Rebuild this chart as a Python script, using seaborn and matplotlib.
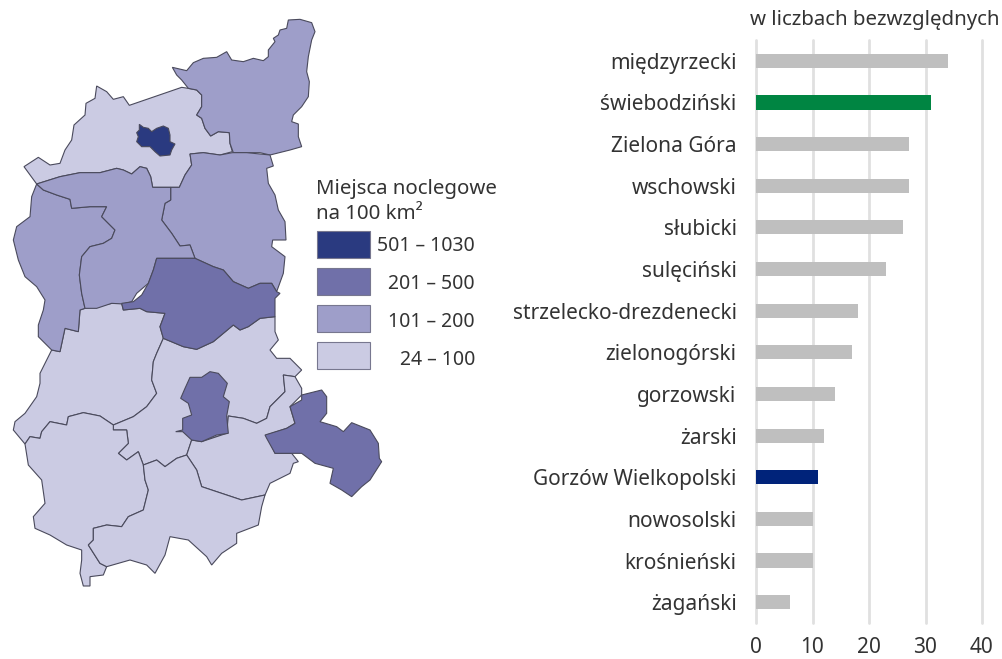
"""Miejsca noclegowe: map of powiats and ranking bars."""
import matplotlib.pyplot as plt
import pandas as pd
import seaborn as sns

# bars
POWIATY = ["międzyrzecki", "świebodziński", "Zielona Góra", "wschowski", "słubicki",
           "sulęciński", "strzelecko-drezdenecki", "zielonogórski", "gorzowski", "żarski",
           "Gorzów Wielkopolski", "nowosolski", "krośnieński", "żagański"]
WARTOSCI = [34, 31, 27, 27, 26, 23, 18, 17, 14, 12, 11, 10, 10, 6]
KOLORY_SLUPKOW = ["#bfbfbf", "#008542"] + ["#bfbfbf"] * 8 + ["#00237a"] + ["#bfbfbf"] * 3
X_TICKS = [0, 10, 20, 30, 40]

# legend
KLASY = ["501 – 1030", "201 – 500", "101 – 200", "24 – 100"]
KOLORY_KLAS = ["#2a3a80", "#7070a9", "#9e9ec9", "#cbcbe3"]

# map outlines (units are 1/3 of a pixel)
STRZELECKO = [(517,202),(560,212),(580,188),(610,175),(650,172),(680,155),(695,180),(730,185),(760,175),
              (790,182),(805,170),(805,150),(825,125),(820,115),(835,105),(840,90),(860,85),(865,60),
              (900,58),(935,68),(945,95),(935,120),(925,170),(920,215),(928,245),(925,290),(905,320),
              (880,345),(875,365),(895,372),(895,410),(905,440),(870,450),(810,465),(780,458),(740,458),
              (700,458),(690,430),(688,398),(655,395),(632,408),(615,385),(605,355),(590,345),(605,320),
              (605,285),(590,270),(565,265),(545,240),(530,225)]
GORZOWSKI = [(72,500),(115,472),(150,495),(180,490),(195,450),(215,420),(222,375),(255,345),(258,310),
             (285,295),(290,258),(320,275),(340,298),(370,290),(388,316),(545,262),(565,265),(590,270),
             (605,285),(605,320),(590,345),(605,355),(615,385),(632,408),(655,395),(688,398),(690,430),
             (697,455),(660,465),(610,458),(570,462),(575,495),(555,525),(538,562),(458,562),(452,530),
             (440,505),(420,500),(395,522),(370,510),(350,505),(300,518),(240,518),(180,530),(110,552)]
GORZOW = [(418,373),(430,382),(445,385),(455,395),(470,385),(490,378),(505,385),(510,405),(510,425),
          (525,432),(515,450),(510,465),(480,468),(465,455),(450,440),(425,440),(410,425),(415,410),
          (410,398),(418,390)]
MIEDZYRZECKI = [(570,462),(610,458),(660,465),(697,458),(740,458),(810,465),(820,498),(800,505),(805,550),
                (825,585),(835,630),(855,665),(858,720),(818,720),(815,740),(855,770),(850,820),(830,875),
                (815,850),(780,850),(745,865),(700,845),(670,810),(640,800),(585,775),(570,735),(540,738),
                (515,700),(485,660),(495,610),(512,600),(512,562),(538,562),(555,525),(575,495)]
SULECINSKI = [(110,552),(180,530),(240,518),(300,518),(350,505),(370,510),(395,522),(420,500),(440,505),
              (452,530),(458,562),(512,562),(512,600),(495,610),(485,660),(515,700),(540,738),(570,735),
              (585,775),(540,775),(470,775),(460,810),(445,850),(410,880),(395,905),(370,912),(335,910),
              (290,925),(255,925),(245,880),(238,825),(245,770),(270,740),(310,730),(335,715),(345,690),
              (320,665),(305,650),(320,620),(270,620),(215,625),(210,598),(170,585),(130,570)]
SLUBICKI = [(110,552),(130,570),(170,585),(210,598),(215,625),(270,620),(320,620),(305,650),(320,665),
            (345,690),(335,715),(310,730),(270,740),(245,770),(238,825),(245,880),(255,925),(240,930),
            (235,995),(195,985),(180,1055),(155,1050),(115,1010),(115,975),(130,930),(135,900),(110,860),
            (75,830),(55,780),(40,720),(50,680),(90,650),(95,590)]
SWIEBODZINSKI = [(470,775),(540,775),(585,775),(640,800),(670,810),(700,845),(745,865),(780,850),(815,850),
                 (830,875),(840,880),(825,895),(825,950),(780,955),(745,980),(720,990),(700,975),(670,1000),
                 (640,1025),(590,1048),(550,1040),(490,1015),(480,980),(495,940),(440,935),(420,925),
                 (370,930),(365,910),(400,905),(425,885),(445,850),(460,810)]
KROSNIENSKI = [(240,930),(255,925),(290,920),(335,910),(365,910),(370,930),(420,925),(440,935),(495,940),
               (480,980),(490,1015),(470,1060),(460,1085),(455,1140),(470,1180),(440,1220),(400,1250),
               (340,1275),(300,1248),(250,1238),(205,1250),(200,1275),(150,1265),(125,1295),(120,1315),
               (90,1310),(75,1332),(40,1290),(45,1265),(75,1240),(110,1190),(120,1150),(120,1120),
               (145,1070),(155,1050),(180,1055),(195,985),(235,995)]
ZIELONOGORSKI = [(490,1015),(550,1040),(590,1048),(640,1025),(670,1000),(700,975),(720,990),(745,980),
                 (780,955),(825,950),(825,995),(835,1020),(810,1050),(830,1075),(870,1075),(905,1110),
                 (885,1130),(850,1125),(855,1175),(810,1220),(800,1255),(770,1270),(730,1255),(685,1248),
                 (680,1300),(605,1325),(575,1320),(560,1365),(530,1375),(495,1400),(470,1380),(430,1395),
                 (415,1355),(380,1380),(355,1360),(385,1330),(380,1290),(340,1290),(340,1275),(400,1250),
                 (440,1220),(470,1180),(455,1140),(460,1085),(470,1060)]
NOWOSOLSKI = [(575,1320),(605,1325),(680,1300),(685,1248),(730,1255),(770,1270),(800,1255),(810,1220),
              (855,1175),(850,1125),(885,1130),(905,1165),(905,1185),(870,1220),(885,1270),(860,1285),
              (800,1305),(825,1360),(875,1360),(895,1385),(880,1390),(870,1420),(810,1450),(795,1485),
              (725,1500),(650,1475),(605,1460),(590,1410),(560,1365)]
ZIELONA_GORA = [(570,1132),(605,1132),(630,1115),(655,1120),(682,1150),(670,1190),(688,1205),(680,1248),
                (685,1300),(650,1305),(605,1325),(575,1320),(548,1295),(527,1295),(548,1290),(548,1255),
                (575,1245),(565,1210),(542,1195),(555,1165)]
WSCHOWSKI = [(905,1185),(965,1170),(980,1190),(980,1240),(960,1265),(1010,1280),(1030,1295),(1055,1268),
             (1110,1290),(1135,1330),(1138,1375),(1145,1385),(1110,1440),(1085,1460),(1055,1490),
             (1025,1470),(990,1450),(1000,1405),(945,1390),(905,1360),(875,1360),(825,1360),(800,1315),
             (795,1305),(860,1285),(885,1270),(870,1220),(905,1200)]
ZARSKI = [(75,1332),(90,1310),(120,1315),(125,1295),(150,1265),(200,1275),(205,1250),(250,1238),(300,1248),
          (340,1275),(340,1290),(380,1290),(385,1330),(355,1360),(380,1380),(415,1355),(430,1395),(435,1440),
          (445,1470),(430,1530),(385,1550),(365,1580),(320,1575),(280,1585),(280,1620),(265,1635),(300,1690),
          (320,1700),(310,1725),(270,1730),(270,1758),(250,1758),(240,1720),(245,1680),(245,1650),(200,1635),
          (150,1605),(105,1585),(100,1550),(135,1510),(125,1440),(85,1395)]
ZAGANSKI = [(430,1395),(470,1380),(495,1400),(530,1375),(560,1365),(590,1410),(605,1460),(650,1475),
            (725,1500),(795,1485),(785,1520),(775,1575),(710,1600),(710,1630),(665,1660),(635,1695),
            (620,1670),(565,1620),(510,1610),(495,1665),(465,1720),(440,1695),(390,1680),(320,1700),
            (300,1690),(265,1635),(280,1620),(280,1585),(320,1575),(365,1580),(385,1550),(430,1530),
            (445,1470),(435,1440)]

# outline, class index into KOLORY_KLAS
MAPA = [(GORZOWSKI, 3), (KROSNIENSKI, 3), (ZIELONOGORSKI, 3), (NOWOSOLSKI, 3), (ZARSKI, 3), (ZAGANSKI, 3),
        (STRZELECKO, 2), (MIEDZYRZECKI, 2), (SLUBICKI, 2), (SULECINSKI, 2),
        (SWIEBODZINSKI, 1), (ZIELONA_GORA, 1), (WSCHOWSKI, 1), (GORZOW, 0)]

sns.set_theme(style="white")
plt.rcParams["font.family"] = ["Noto Sans", "DejaVu Sans"]
KOLOR_TEKSTU = "#333333"

fig = plt.figure(figsize=(10.03, 6.59), dpi=100)

# Full-figure axes in pixels for the map and its legend
ax_map = fig.add_axes([0, 0, 1, 1])
ax_map.set_xlim(0, 1003)
ax_map.set_ylim(659, 0)
ax_map.axis("off")

for outline, klasa in MAPA:
    xs = [p[0] / 3 for p in outline]
    ys = [p[1] / 3 for p in outline]
    ax_map.fill(xs, ys, facecolor=KOLORY_KLAS[klasa], edgecolor="#4a4a5c", linewidth=0.8)

ax_map.text(316, 189, "Miejsca noclegowe", fontsize=14.7, color=KOLOR_TEKSTU, va="center")
ax_map.text(316, 214, "na 100 km²", fontsize=14.7, color=KOLOR_TEKSTU, va="center")
for i, (klasa, kolor) in enumerate(zip(KLASY, KOLORY_KLAS)):
    top = 231 + i * 37
    ax_map.fill([317, 370, 370, 317], [top, top, top + 27, top + 27],
                facecolor=kolor, edgecolor="#77778f", linewidth=0.8)
    ax_map.text(475, 246 + i * 38, klasa, fontsize=14, color=KOLOR_TEKSTU, ha="right", va="center")

# Ranking bars
ax = fig.add_axes([756 / 1003, 1 - 623 / 659, 226 / 1003, 583 / 659])
ax.patch.set_alpha(0)
df = pd.DataFrame({"powiat": POWIATY, "wartosc": WARTOSCI})
sns.barplot(data=df, y="powiat", x="wartosc", hue="powiat", palette=KOLORY_SLUPKOW, legend=False,
            width=0.34, saturation=1, linewidth=0, ax=ax, zorder=3)
ax.set_xlim(0, 40)
ax.set_xticks(X_TICKS)
ax.set_xlabel("")
ax.set_ylabel("")
ax.grid(axis="x", color="#e0e0e0", linewidth=2, zorder=0)
ax.grid(axis="y", visible=False)
ax.set_axisbelow(True)
sns.despine(ax=ax, left=True, bottom=True, top=True, right=True)
for line in ax.get_xgridlines():
    line.set_clip_on(False)
ax.tick_params(axis="x", length=0, pad=10, labelsize=15, labelcolor=KOLOR_TEKSTU)
ax.tick_params(axis="y", length=0, pad=14, labelsize=15, labelcolor=KOLOR_TEKSTU)

fig.text(875 / 1003, 1 - 20 / 659, "w liczbach bezwzględnych", fontsize=14.7, color=KOLOR_TEKSTU,
         ha="center", va="center")

fig.savefig("out.png", dpi=100)
